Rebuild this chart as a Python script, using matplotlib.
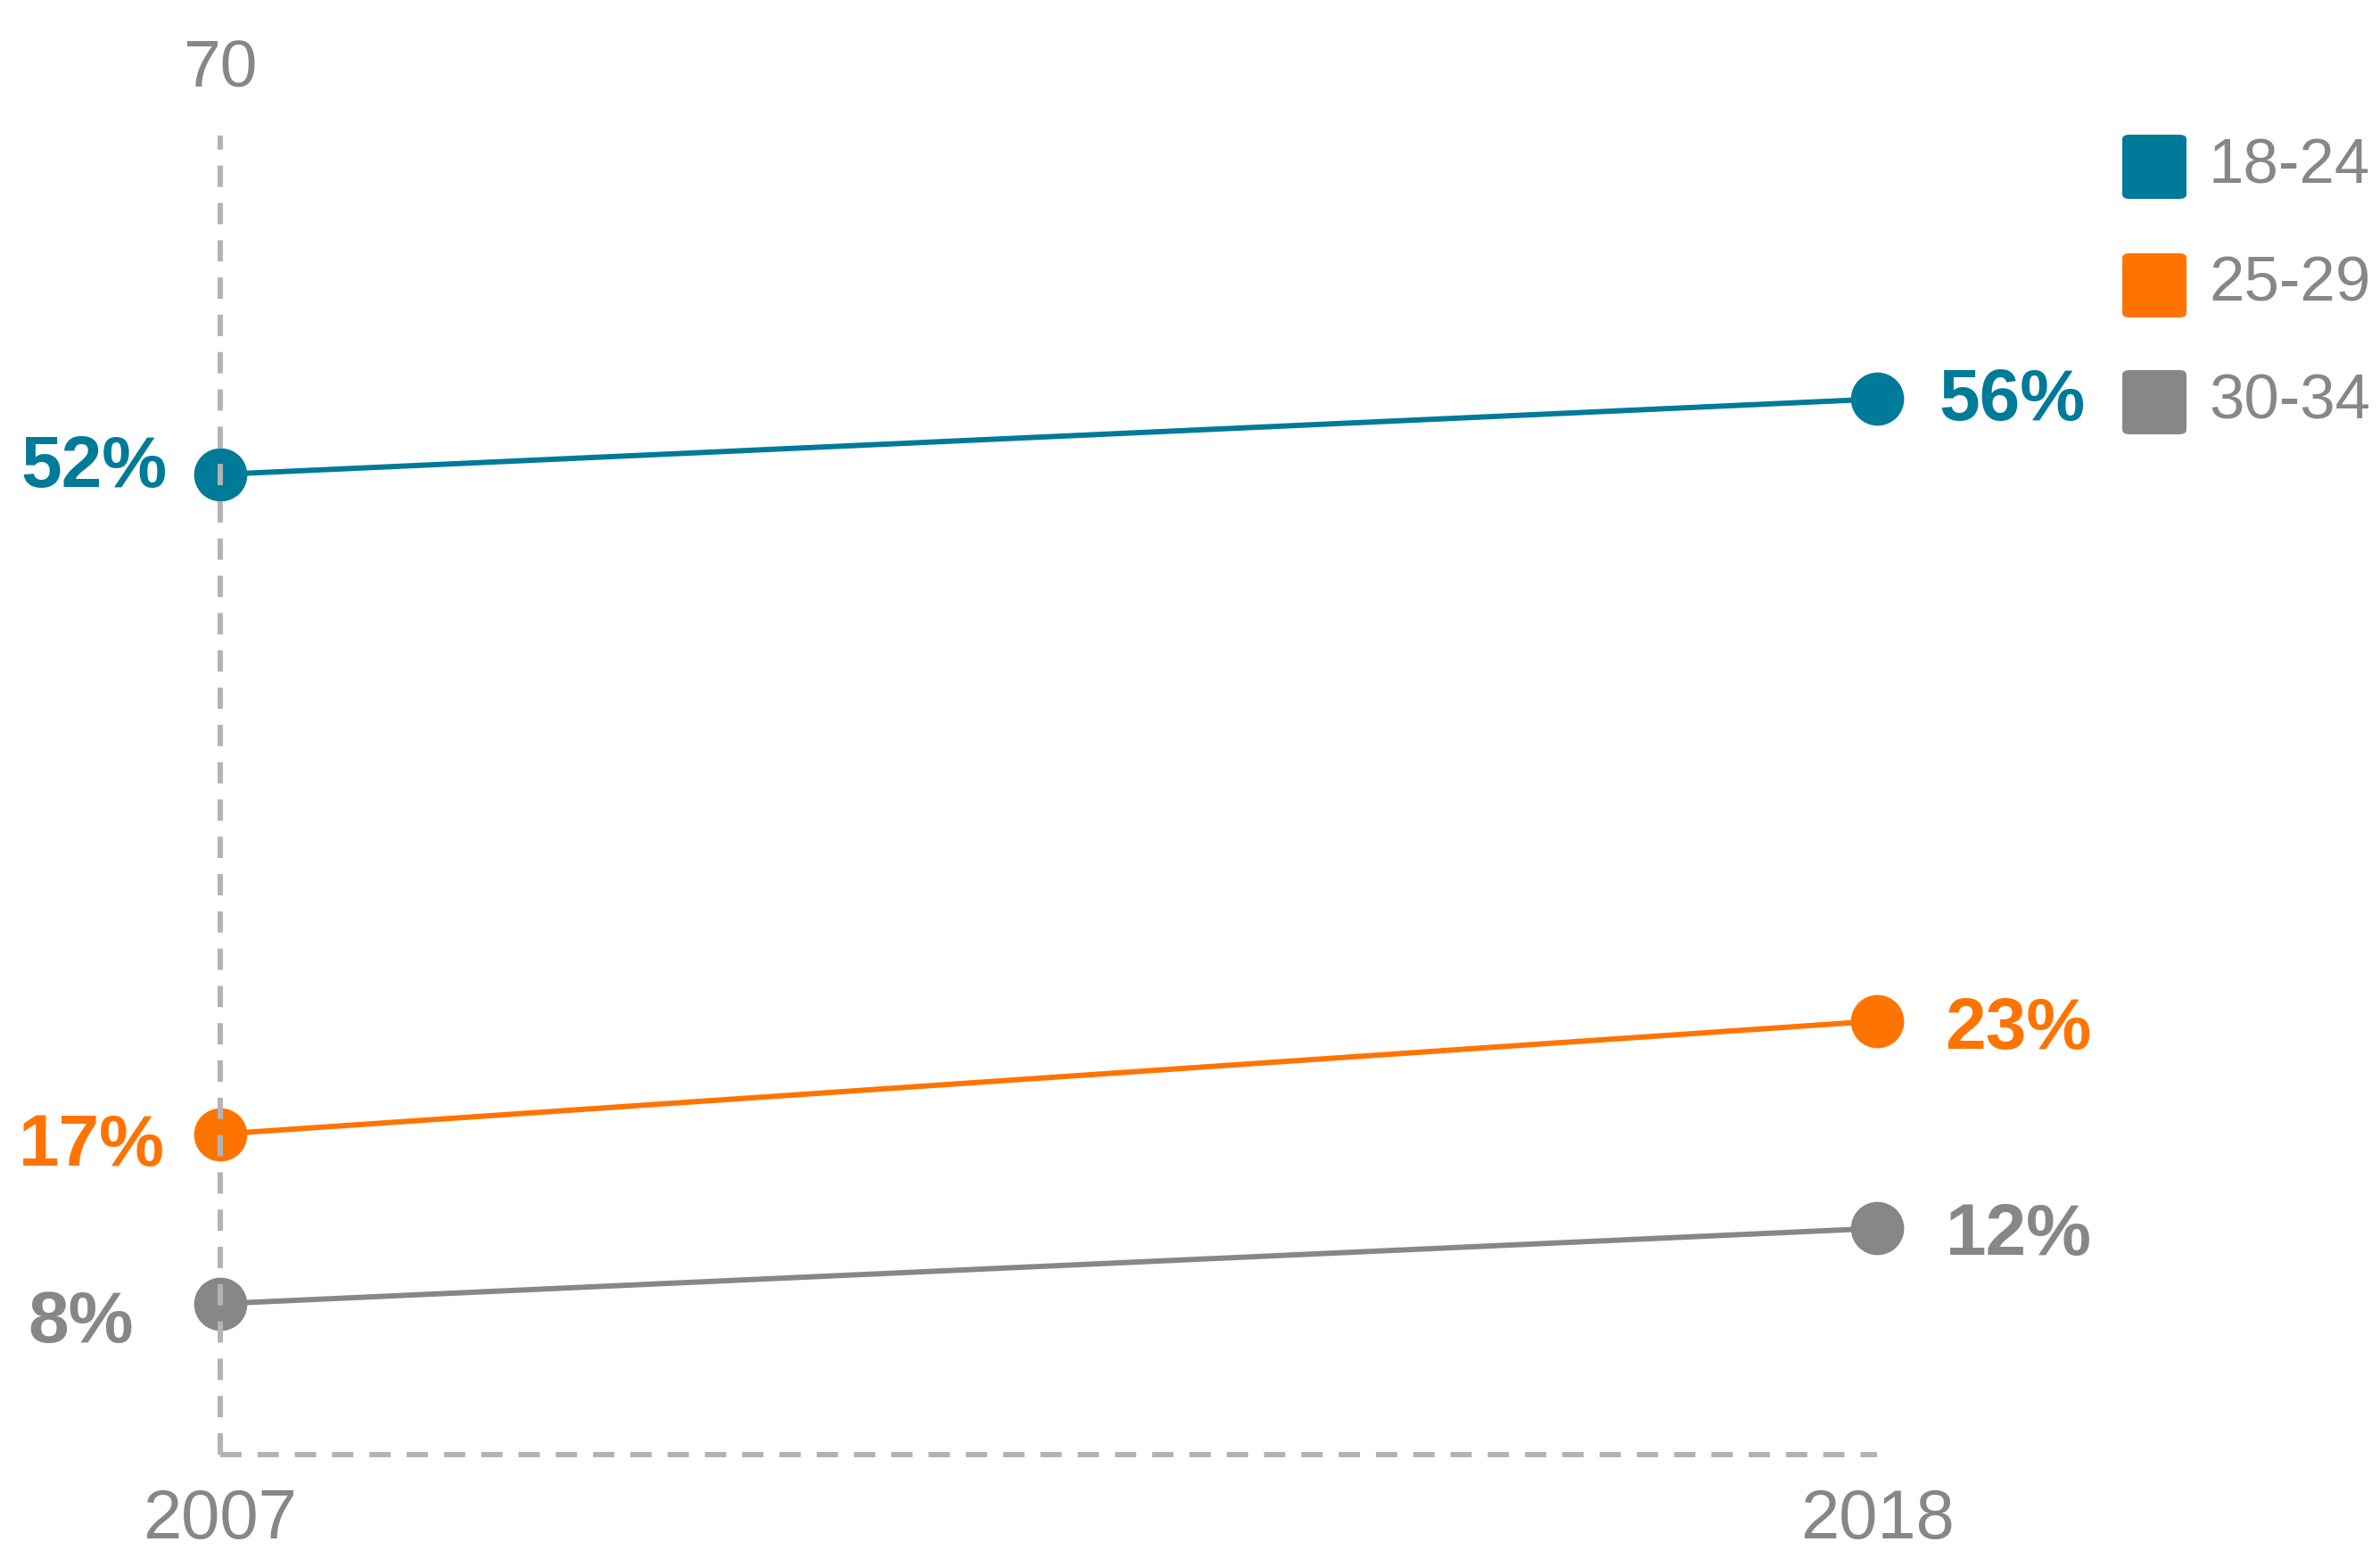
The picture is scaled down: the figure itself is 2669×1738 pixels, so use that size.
import matplotlib.pyplot as plt
from matplotlib.patches import FancyBboxPatch

plt.rcParams['font.family'] = ['Liberation Sans', 'DejaVu Sans']

years = [2007, 2018]
groups = ['18-24', '25-29', '30-34']
vals_1824 = [52, 56]
vals_2529 = [17, 23]
vals_3034 = [8, 12]
colors = ['#007A99', '#FF7400', '#878787']

series = [vals_1824, vals_2529, vals_3034]
# label offsets (points) for start and end labels
left_off = [(-43, 5), (-45, -10), (-70, -16)]
right_off = [(50, -1.5), (55, -7), (55, -6)]

grey_txt = '#878787'
dash_grey = '#B3B3B3'

fig = plt.figure(figsize=(26.69, 17.38), dpi=100)
ax = fig.add_axes([0.0925, 0.0616, 0.6962, 0.8512])

for vals, col, lo, ro in zip(series, colors, left_off, right_off):
    ax.plot(years, vals, color=col, lw=4.3, marker='o', markersize=43,
            markeredgewidth=0, clip_on=False, zorder=2)
    ax.annotate(f'{vals[0]}%', (years[0], vals[0]), xytext=lo,
                textcoords='offset points', ha='right', va='center',
                fontsize=59, fontweight='bold', color=col)
    ax.annotate(f'{vals[1]}%', (years[1], vals[1]), xytext=ro,
                textcoords='offset points', ha='left', va='center',
                fontsize=59, fontweight='bold', color=col)

ax.set_xlim(2007, 2018)
ax.set_ylim(0, 70)

for s in ['top', 'right']:
    ax.spines[s].set_visible(False)
for s in ['left', 'bottom']:
    ax.spines[s].set_color(dash_grey)
    ax.spines[s].set_linewidth(4.3)
    ax.spines[s].set_linestyle((0, (4, 3)))
    ax.spines[s].set_capstyle('butt')

ax.set_yticks([])
ax.set_xticks(years)
ax.set_xticklabels([str(y) for y in years])
ax.tick_params(axis='x', length=0, pad=27, labelsize=56, labelcolor=grey_txt)

# top y tick label
ax.annotate('70', (years[0], 70), xytext=(0, 53), textcoords='offset points',
            ha='center', va='center', fontsize=54, color=grey_txt,
            annotation_clip=False)

# legend with rounded squares
sq_w = 72 / 2669
sq_h = 72 / 1738
lx = 2380 / 2669
tx = 2477 / 2669
ycents = [1 - 187 / 1738, 1 - 320 / 1738, 1 - 451 / 1738]
for g, col, yc in zip(groups, colors, ycents):
    fig.patches.append(FancyBboxPatch((lx, yc - sq_h / 2), sq_w, sq_h,
                                      boxstyle='round,pad=0,rounding_size=0.003',
                                      transform=fig.transFigure,
                                      facecolor=col, edgecolor='none'))
    fig.text(tx, yc, g, ha='left', va='center', fontsize=51, color=grey_txt)

fig.savefig('out.png', dpi=100, facecolor='white')
